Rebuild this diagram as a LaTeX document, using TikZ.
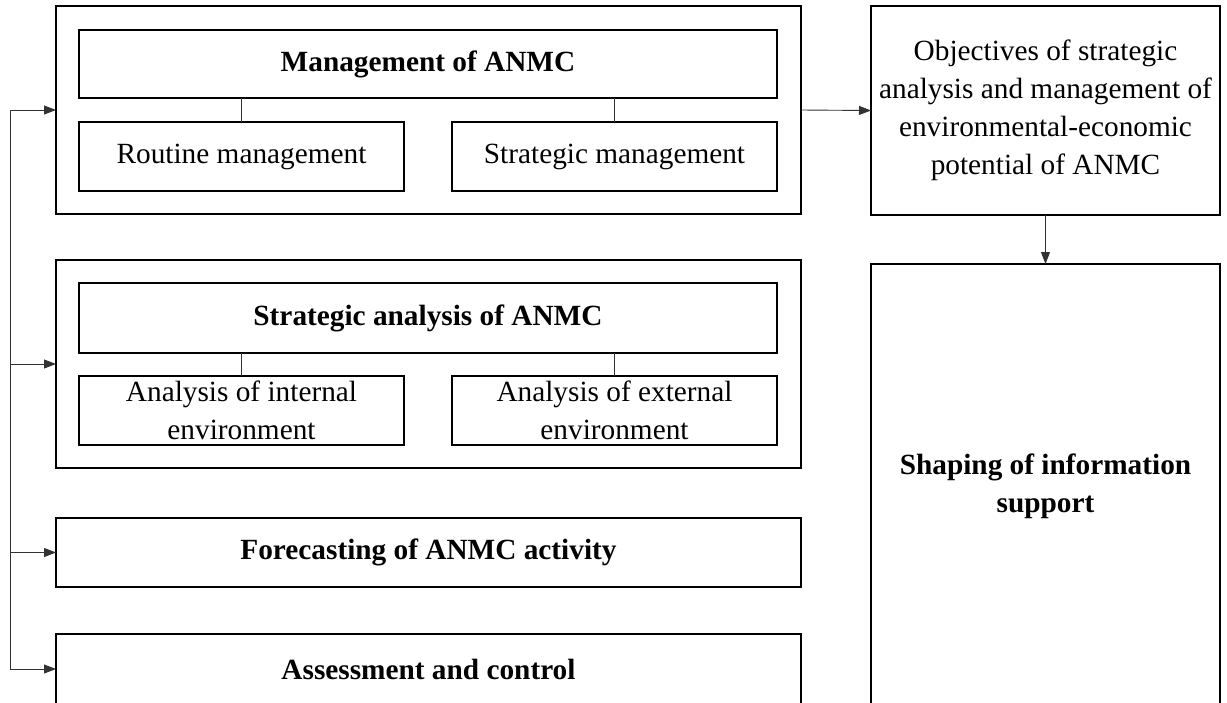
\documentclass[tikz,border=0pt]{standalone}
\usepackage{fontspec}
\setmainfont{Liberation Serif}
\usetikzlibrary{arrows.meta}
\begin{document}
\begin{tikzpicture}[x=1pt,y=-1pt,
  box/.style={draw=black,line width=1.1pt,rectangle,inner sep=0pt,outer sep=0pt,align=center,
    font=\fontsize{29.3}{38}\selectfont},
  bbox/.style={box,font=\fontsize{29.3}{38}\selectfont\bfseries},
  conn/.style={draw=black!80,line width=0.9pt},
  arr/.style={conn,-{Triangle[length=12pt,width=9pt]}}]
\useasboundingbox (0,0) rectangle (1227,702);
\clip (0,0) rectangle (1227,702);
% group 1
\node[box,minimum width=745,minimum height=208] (g1) at (428.5,110) {};
\node[bbox,minimum width=698,minimum height=68] (t1) at (428,64) {Management of ANMC};
\node[box,minimum width=325,minimum height=69] (r1) at (241.5,156.5) {Routine management};
\node[box,minimum width=325,minimum height=69] (s1) at (614.5,156.5) {Strategic management};
\draw[conn] (r1.north) -- (r1.north |- t1.south);
\draw[conn] (s1.north) -- (s1.north |- t1.south);
% group 2
\node[box,minimum width=745,minimum height=208] (g2) at (428.5,364) {};
\node[bbox,minimum width=698,minimum height=70] (t2) at (428,318) {Strategic analysis of ANMC};
\node[box,minimum width=325,minimum height=69] (r2) at (241.5,410.5) {Analysis of internal\\environment};
\node[box,minimum width=325,minimum height=69] (s2) at (614.5,410.5) {Analysis of external\\environment};
\draw[conn] (r2.north) -- (r2.north |- t2.south);
\draw[conn] (s2.north) -- (s2.north |- t2.south);
% forecasting, assessment
\node[bbox,minimum width=745,minimum height=69] (fc) at (428.5,552.5) {Forecasting of ANMC activity};
\node[bbox,minimum width=745,minimum height=70] (as) at (428.5,669) {Assessment and control};
% right column
\node[box,minimum width=349,minimum height=209] (ob) at (1045.5,110.5) {Objectives of strategic\\analysis and management of\\environmental-economic\\potential of ANMC};
\node[bbox,minimum width=349,minimum height=444] (sh) at (1045.5,486) {Shaping of information\\support};
% left bus
\coordinate (L) at (10,0);
\draw[conn] (L |- g1.west) -- (L |- as.west);
\draw[arr] (L |- g1.west) -- (g1.west);
\draw[arr] (L |- g2.west) -- (g2.west);
\draw[arr] (L |- fc.west) -- (fc.west);
\draw[arr] (L |- as.west) -- (as.west);
% right arrows
\draw[arr] (g1.east) -- (ob.west);
\draw[arr] (ob.south) -- (sh.north);
\end{tikzpicture}
\end{document}
